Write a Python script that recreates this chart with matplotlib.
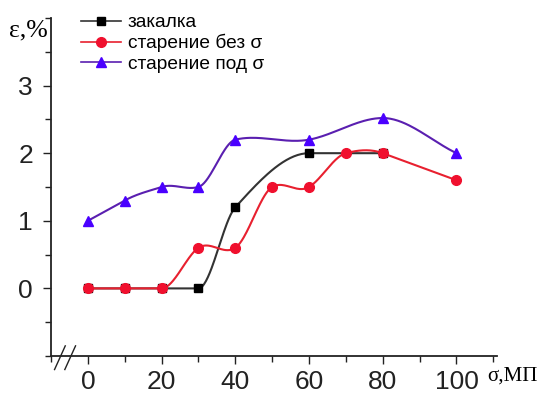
import numpy as np
import matplotlib.pyplot as plt
from matplotlib.ticker import MultipleLocator

# data
x_zak = [0, 10, 20, 30, 40, 60, 80]
y_zak = [0, 0, 0, 0, 1.2, 2.0, 2.0]

x_bez = [0, 10, 20, 30, 40, 50, 60, 70, 80, 100]
y_bez = [0, 0, 0, 0.6, 0.6, 1.5, 1.5, 2.0, 2.0, 1.6]

x_pod = [0, 10, 20, 30, 40, 60, 80, 100]
y_pod = [1.0, 1.3, 1.5, 1.5, 2.2, 2.2, 2.52, 2.0]

xticks = [0, 20, 40, 60, 80, 100]
yticks = [0, 1, 2, 3]


def akima(x, y, n=40):
    # smooth connecting line (akima style) through the points
    x = np.asarray(x, float)
    y = np.asarray(y, float)
    m = np.diff(y) / np.diff(x)
    m = np.concatenate([[m[0], m[0]], m, [m[-1], m[-1]]])
    t = np.zeros(len(x))
    for i in range(len(x)):
        w1 = abs(m[i+3] - m[i+2])
        w2 = abs(m[i+1] - m[i])
        if m[i+1] * m[i+2] < 0:
            t[i] = 0  # peak at the point itself
        elif w1 + w2 == 0:
            t[i] = 0.5 * (m[i+1] + m[i+2])
        else:
            t[i] = (w1*m[i+1] + w2*m[i+2]) / (w1 + w2)
    xs, ys = [], []
    for i in range(len(x) - 1):
        h = x[i+1] - x[i]
        s = np.linspace(0, 1, n)
        h00 = 2*s**3 - 3*s**2 + 1
        h10 = s**3 - 2*s**2 + s
        h01 = -2*s**3 + 3*s**2
        h11 = s**3 - s**2
        xs.append(x[i] + s*h)
        ys.append(h00*y[i] + h10*h*t[i] + h01*y[i+1] + h11*h*t[i+1])
    return np.concatenate(xs), np.concatenate(ys)


plt.rcParams['font.family'] = ['Liberation Sans', 'DejaVu Sans']

fig = plt.figure(figsize=(5.5, 3.94), dpi=100)
ax = fig.add_axes([0.0927, 0.0964, 0.811, 0.858])

series = [
    (x_zak, y_zak, '#333333', 'black', 's', 5.5, 'закалка'),
    (x_bez, y_bez, '#e8202f', '#f0102e', 'o', 7, 'старение без σ'),
    (x_pod, y_pod, '#5a1fb0', '#4a00ff', '^', 7, 'старение под σ'),
]
for xd, yd, lc, mc, mk, ms, lab in series:
    xs, ys = akima(xd, yd)
    ax.plot(xs, ys, color=lc, lw=1.5, zorder=2)
    ax.plot(xd, yd, ls='none', marker=mk, ms=ms, color=mc, zorder=3)
    ax.plot([], [], color=lc, lw=1.2, marker=mk, ms=ms, mfc=mc, mec=mc, label=lab)

ax.set_xlim(-10, 111)
ax.set_ylim(-1, 4)
ax.set_xticks(xticks)
ax.set_yticks(yticks)
ax.xaxis.set_minor_locator(MultipleLocator(10))
ax.yaxis.set_minor_locator(MultipleLocator(0.5))
ax.tick_params(which='both', direction='out', labelsize=19, colors='#222222', width=1)
ax.tick_params(which='major', length=6)
ax.tick_params(which='minor', length=4)
ax.tick_params(axis='x', pad=4)
ax.tick_params(axis='y', pad=7)
ax.spines['top'].set_visible(False)
ax.spines['right'].set_visible(False)
for sp in ['left', 'bottom']:
    ax.spines[sp].set_linewidth(1.3)
    ax.spines[sp].set_color('#222222')

# axis break marks
for dx in [0, 0.023]:
    ax.plot([0.008 + dx, 0.032 + dx], [-0.04, 0.03], transform=ax.transAxes,
            color='#222222', lw=1, clip_on=False)

fig.text(0.016, 0.922, 'ε,%', fontsize=18.5, family='Liberation Serif', va='center')
fig.text(0.885, 0.046, 'σ,МП', fontsize=15, family='Liberation Serif', va='center')

ax.legend(loc='upper left', bbox_to_anchor=(0.05, 1.035), frameon=False,
          fontsize=13.8, handlelength=2.1, handletextpad=0.35, labelspacing=0.15,
          borderaxespad=0)

fig.savefig('out.png', dpi=100)
